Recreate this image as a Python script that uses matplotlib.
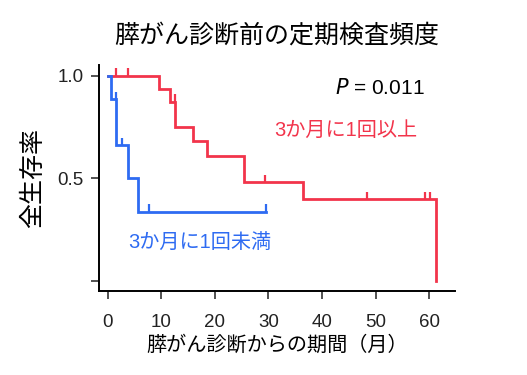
import numpy as np
import matplotlib
matplotlib.use("Agg")
import matplotlib.pyplot as plt

plt.rcParams['font.family'] = ['Liberation Sans', 'Noto Sans CJK JP', 'DejaVu Sans']

# --- Data (Kaplan-Meier steps) ---
red_times = [0, 9.6, 11.7, 12.6, 15.9, 18.5, 25.5, 36.4, 61.3]
red_surv = [1.0, 0.934, 0.873, 0.749, 0.683, 0.609, 0.480, 0.398, 0.0]
red_censor = [1.5, 3.8, 12.5, 29.4, 48.4, 59.3, 60.1]

blue_times = [0, 0.7, 1.6, 3.8, 5.7, 29.5]
blue_surv = [1.0, 0.885, 0.662, 0.503, 0.337, 0.337]
blue_censor = [1.6, 2.6, 7.7, 29.5]

RED = "#F2344B"
BLUE = "#2E6BF2"


def surv_at(times, surv, t):
    # level just before t (tick sits on the upper step at ties)
    i = np.searchsorted(times, t, side="left") - 1
    return surv[max(i, 0)]


fig = plt.figure(figsize=(5.27, 3.75), dpi=100)
ax = fig.add_axes([0.188, 0.225, 0.675, 0.602])

for times, surv, cens, col in [(red_times, red_surv, red_censor, RED),
                               (blue_times, blue_surv, blue_censor, BLUE)]:
    ax.step(times, surv, where="post", color=col, lw=2.0, solid_joinstyle="miter")
    levels = [surv_at(times, surv, c) for c in cens]
    ax.vlines(cens, levels, np.array(levels) + 0.035, color=col, lw=1.6)

ax.set_xlim(-1.6, 64.8)
ax.set_ylim(-0.048, 1.052)
ax.set_xticks([0, 10, 20, 30, 40, 50, 60])
ax.set_yticks([0.0, 0.5, 1.0])
ax.set_yticklabels(["", "0.5", "1.0"])

for s in ["top", "right"]:
    ax.spines[s].set_visible(False)
for s in ["left", "bottom"]:
    ax.spines[s].set_linewidth(1.4)
ax.tick_params(direction="out", length=6, width=1.1, labelsize=13.5, colors="#222222")
ax.tick_params(axis="x", pad=11)
ax.tick_params(axis="y", pad=5)

ax.set_title("膵がん診断前の定期検査頻度", fontsize=18, pad=16)
ax.set_xlabel("膵がん診断からの期間（月）", fontsize=14.5, labelpad=3)
ax.set_ylabel("全生存率", fontsize=18, labelpad=9)

ax.text(59.2, 0.94, "$P$ = 0.011", fontsize=15, ha="right", va="center",
        family=['Liberation Sans', 'DejaVu Sans'])
ax.text(57.8, 0.735, "3か月に1回以上", fontsize=14.5, color=RED, ha="right", va="center")
ax.text(3.8, 0.18, "3か月に1回未満", fontsize=14.5, color=BLUE, ha="left", va="center")

fig.savefig("out.png", dpi=100)
